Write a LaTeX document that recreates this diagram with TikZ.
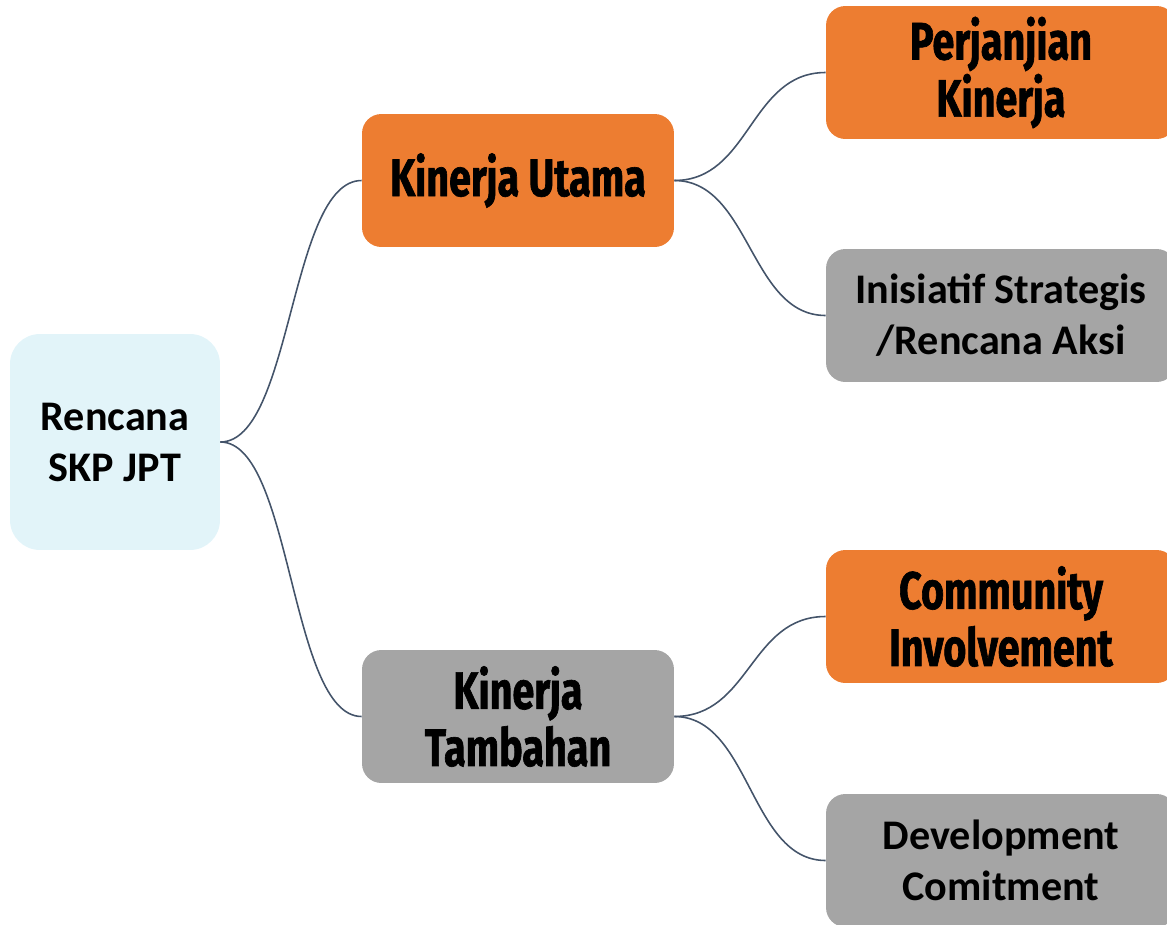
\documentclass[tikz,border=0pt]{standalone}
\usepackage{fontspec}
\setmainfont{Carlito}
\newfontfamily\condfont[FakeStretch=0.75,BoldFeatures={FakeBold=1.2}]{Fira Sans}
\usepackage{tikz}
\usepackage{xcolor}
\usetikzlibrary{positioning,shapes}

\definecolor{skporange}{HTML}{ED7D31}
\definecolor{skpgray}{HTML}{A5A5A5}
\definecolor{skpblue}{HTML}{E2F4F9}
\definecolor{skpline}{HTML}{44546A}

\begin{document}
\begin{tikzpicture}[x=0.02cm,y=-0.02cm]
\tikzstyle{every node}+=[inner sep=0pt, align=center, text=black]
\tikzstyle{box}=[rounded corners=11pt, minimum width=6.24cm, minimum height=2.66cm]
\tikzstyle{leafbox}=[box, minimum width=7cm]
\tikzstyle{hot}=[fill=skporange, font=\condfont\bfseries\fontsize{30}{32.5}\selectfont]
\tikzstyle{cold}=[fill=skpgray, font=\bfseries\fontsize{24}{29}\selectfont]
\tikzstyle{coldc}=[fill=skpgray, font=\condfont\bfseries\fontsize{30}{32.5}\selectfont]
\tikzstyle{branch}=[draw=skpline, line width=0.9pt]
\clip (0,0) rectangle (1167,924);
% root
\node [rounded corners=17pt, fill=skpblue, minimum width=4.2cm, minimum height=4.32cm,
  font=\bfseries\fontsize{24}{29}\selectfont] (rencana) at (115,442) {Rencana\\SKP JPT};
% second level
\node [box, hot] (utama) at (518,180.5) {Kinerja Utama};
\node [box, coldc] (tambahan) at (518,716.5) {Kinerja\\Tambahan};
% leaves
\node [leafbox, hot] (perjanjian) at (1001,72.5) {Perjanjian\\Kinerja};
\node [leafbox, cold] (inisiatif) at (1001,315.5) {Inisiatif Strategis\\/Rencana Aksi};
\node [leafbox, hot] (community) at (1001,616.5) {Community\\Involvement};
\node [leafbox, cold] (development) at (1001,860.5) {Development\\Comitment};
% branches
\draw [branch] (rencana.east) .. controls +(72,0) and +(-72,0) .. (utama.west);
\draw [branch] (rencana.east) .. controls +(72,0) and +(-72,0) .. (tambahan.west);
\draw [branch] (utama.east) .. controls +(76,0) and +(-76,0) .. (perjanjian.west);
\draw [branch] (utama.east) .. controls +(76,0) and +(-76,0) .. (inisiatif.west);
\draw [branch] (tambahan.east) .. controls +(76,0) and +(-76,0) .. (community.west);
\draw [branch] (tambahan.east) .. controls +(76,0) and +(-76,0) .. (development.west);
\end{tikzpicture}
\end{document}
